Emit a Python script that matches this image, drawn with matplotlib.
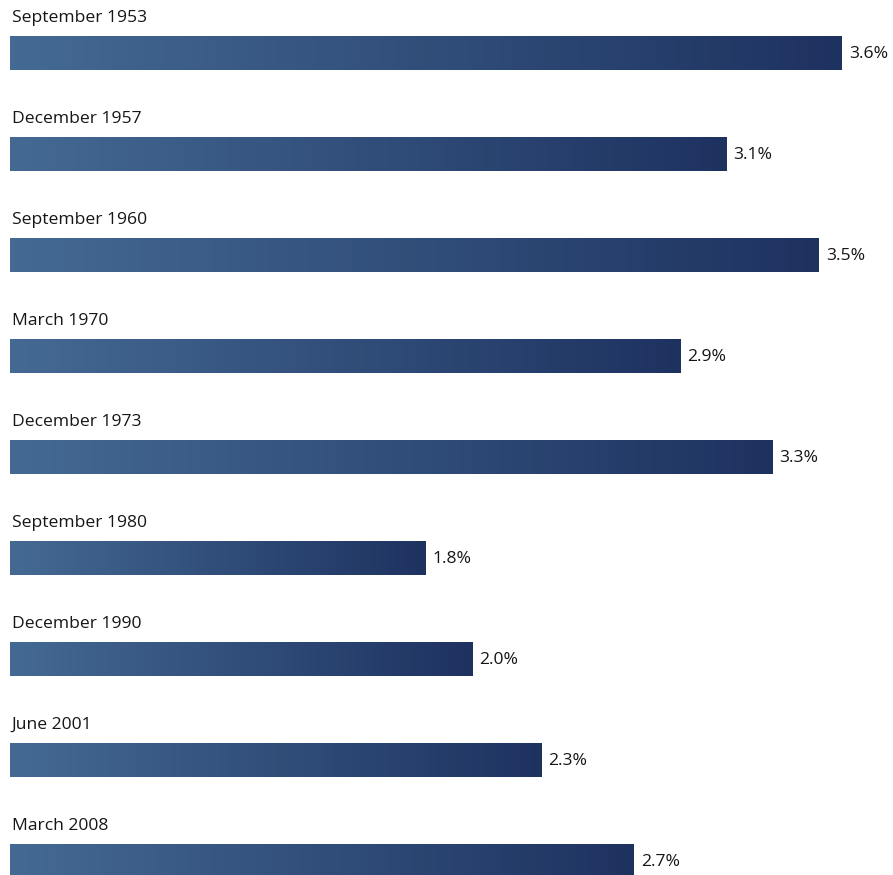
import numpy as np
import matplotlib
matplotlib.use("Agg")
import matplotlib.pyplot as plt
from matplotlib.colors import LinearSegmentedColormap

OUT = "out.png"

periods = ["September 1953", "December 1957", "September 1960", "March 1970",
           "December 1973", "September 1980", "December 1990", "June 2001",
           "March 2008"]
values = [3.6, 3.1, 3.5, 2.9, 3.3, 1.8, 2.0, 2.3, 2.7]

INK = "#161616"
grad = LinearSegmentedColormap.from_list("bar", ["#446a93", "#1e3260"])

W, H = 893, 875
fig = plt.figure(figsize=(W / 100, H / 100), dpi=100)
ax = fig.add_axes([0, 0, 1, 1])

px = 231.1  # pixels per percentage point
step, bar_h = 101, 34
ys = [53 + step * i for i in range(len(values))]

bars = ax.barh(ys, values, height=bar_h, color="none", edgecolor="none")
g = np.linspace(0, 1, 256).reshape(1, -1)
font = dict(fontsize=12.6, color=INK, family=["Open Sans", "DejaVu Sans"],
            fontweight="medium", va="center", ha="left")
for b, label, v, y in zip(bars, periods, values, ys):
    x0, y0 = b.get_x(), b.get_y()
    im = ax.imshow(g, cmap=grad, aspect="auto",
                   extent=(x0, x0 + b.get_width(), y0 + b.get_height(), y0),
                   zorder=2)
    im.set_clip_path(b)
    ax.text(0.008, y - 35, label, **font)
    ax.text(v + 0.03, y + 1, f"{v:.1f}%", **font)

ax.set_xlim(-10 / px, (W - 10) / px)
ax.set_ylim(H, 0)
ax.axis("off")
fig.savefig(OUT, facecolor="white")
